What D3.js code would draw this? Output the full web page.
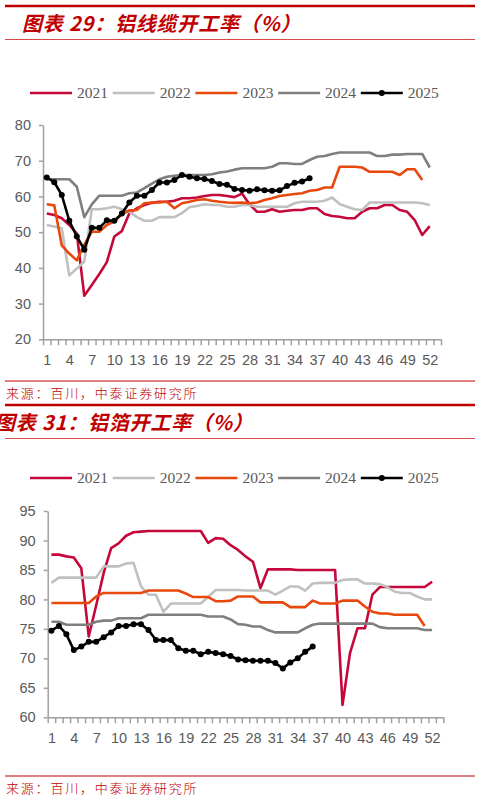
<!DOCTYPE html>
<html lang="zh">
<head>
<meta charset="utf-8">
<title>铝线缆 / 铝箔开工率</title>
<script src="https://cdn.jsdelivr.net/npm/d3@7"></script>
<style>
  body { margin: 0; background: #fff; }
  svg { display: block; }
</style>
</head>
<body>
<div id="chart"></div>
<script>
// week categories and axis labels
var weeks = d3.range(1, 54);
var weekLabels = [1, 4, 7, 10, 13, 16, 19, 22, 25, 28, 31, 34, 37, 40, 43, 46, 49, 52];
var years = ["2021", "2022", "2023", "2024", "2025"];
var yearColors = ["#c5083a", "#c0c0c0", "#e8480c", "#7f7f7f", "#000000"];

// 图表29 铝线缆开工率
var cable2021 = [55.2, 54.8, 53.9, 52.0, 49.6, 32.2, 35.2, 38.3, 41.6, 48.8,
  50.3, 55.3, 56.7, 57.6, 58.2, 58.5, 58.5, 58.8, 59.5, 59.5,
  59.7, 60.1, 60.4, 60.4, 60.1, 59.8, 60.8, 57.8, 55.7, 55.7,
  56.4, 55.7, 56.0, 56.2, 56.2, 56.7, 56.7, 55.1, 54.5, 54.3,
  53.9, 53.9, 55.7, 56.7, 56.7, 57.6, 57.6, 56.2, 55.7, 53.4, 49.2, 51.7];
var cable2022 = [52.0, 51.6, 51.1, 37.9, 39.8, 41.8, 56.4, 56.4, 56.7, 57.1,
  56.4, 55.7, 54.2, 53.2, 53.2, 54.2, 54.2, 54.2, 55.3, 57.0,
  57.3, 57.8, 57.6, 57.6, 57.1, 57.1, 57.6, 57.6, 57.1, 57.1,
  57.1, 57.1, 57.1, 58.1, 58.5, 58.5, 58.5, 58.8, 59.7, 57.9,
  57.1, 56.4, 56.2, 58.3, 58.3, 58.3, 58.3, 58.3, 58.3, 58.3, 58.1, 57.6];
var cable2023 = [57.8, 57.5, 46.3, 44.0, 42.1, 46.5, 50.1, 50.1, 52.0, 53.0,
  55.0, 56.1, 56.2, 58.1, 58.3, 58.3, 58.5, 56.7, 58.1, 58.5,
  59.0, 59.2, 58.8, 58.5, 58.3, 58.2, 58.3, 58.1, 58.3, 59.0,
  59.5, 60.1, 60.4, 60.7, 60.9, 61.6, 61.8, 62.5, 62.5, 68.3,
  68.3, 68.3, 68.1, 66.9, 66.9, 66.9, 66.9, 66.0, 67.6, 67.6, 64.6];
var cable2024 = [64.8, 64.8, 64.8, 64.8, 62.7, 54.2, 57.8, 60.2, 60.2, 60.2,
  60.2, 60.9, 61.1, 62.3, 63.6, 64.8, 65.5, 65.8, 66.0, 66.0,
  66.0, 66.0, 66.2, 66.7, 67.0, 67.5, 67.9, 67.9, 67.9, 67.9,
  68.3, 69.3, 69.3, 69.1, 69.1, 70.2, 71.1, 71.3, 71.9, 72.3,
  72.3, 72.3, 72.3, 72.3, 71.3, 71.3, 71.7, 71.7, 71.9, 71.9, 71.9, 68.1];
var cable2025 = [65.3, 64.0, 60.4, 53.2, 48.8, 45.1, 51.2, 51.2, 53.3, 53.2,
  55.2, 58.3, 60.2, 60.2, 61.8, 63.9, 63.9, 64.6, 66.0, 65.5,
  65.1, 64.9, 64.3, 63.5, 63.3, 62.1, 61.8, 61.6, 62.0, 61.7,
  61.6, 61.7, 62.9, 63.8, 64.2, 65.1];
var cableTicks = [20, 30, 40, 50, 60, 70, 80];

// 图表31 铝箔开工率
var foil2021 = [87.6, 87.6, 87.3, 87.1, 85.3, 73.7, 79.0, 84.5, 88.7, 89.5,
  90.8, 91.4, 91.5, 91.6, 91.6, 91.6, 91.6, 91.6, 91.6, 91.6,
  91.6, 89.6, 90.4, 90.3, 89.2, 88.4, 87.3, 86.4, 81.9, 85.1,
  85.1, 85.1, 85.1, 85.0, 85.0, 85.0, 85.0, 85.0, 85.0, 62.1,
  70.9, 75.1, 75.1, 80.8, 82.1, 82.1, 82.1, 82.1, 82.1, 82.1, 82.1, 83.0];
var foil2022 = [82.8, 83.7, 83.7, 83.7, 83.7, 83.7, 83.7, 85.6, 85.6, 85.6,
  86.1, 86.2, 82.2, 80.8, 80.8, 77.9, 79.3, 79.3, 79.3, 79.3,
  79.3, 80.4, 81.6, 81.6, 81.6, 81.6, 81.5, 81.5, 81.5, 81.5,
  80.8, 81.5, 82.2, 82.2, 81.5, 82.7, 82.8, 82.8, 82.8, 83.3,
  83.4, 83.4, 82.7, 82.7, 82.6, 82.1, 81.3, 81.1, 81.1, 80.5, 80.0, 80.0];
var foil2023 = [79.4, 79.4, 79.4, 79.4, 79.4, 79.4, 80.5, 81.1, 81.1, 81.1,
  81.1, 81.1, 81.1, 81.5, 81.5, 81.5, 81.5, 81.5, 81.0, 80.4,
  80.4, 80.4, 79.7, 79.7, 79.8, 80.5, 80.5, 80.5, 79.5, 79.5,
  79.5, 79.5, 78.7, 78.7, 78.7, 79.8, 79.3, 79.3, 79.3, 79.8,
  79.8, 79.8, 78.8, 77.9, 77.6, 77.6, 77.4, 77.4, 77.4, 77.4, 75.5];
var foil2024 = [76.2, 76.2, 75.7, 75.7, 75.7, 75.7, 76.2, 76.4, 76.4, 76.8,
  76.8, 76.8, 76.8, 77.4, 77.4, 77.4, 77.4, 77.4, 77.4, 77.4,
  77.4, 77.1, 77.1, 77.1, 76.6, 75.8, 75.7, 75.4, 75.4, 74.8,
  74.4, 74.4, 74.4, 74.4, 75.1, 75.7, 75.9, 75.9, 75.9, 75.9,
  75.9, 75.9, 75.9, 75.9, 75.3, 75.1, 75.1, 75.1, 75.1, 75.1, 74.8, 74.8];
var foil2025 = [74.7, 75.5, 74.1, 71.4, 72.0, 72.8, 72.8, 73.6, 74.4, 75.5,
  75.5, 75.8, 75.8, 74.8, 73.1, 73.1, 73.1, 71.7, 71.3, 71.3,
  70.7, 71.1, 70.9, 70.7, 70.4, 69.8, 69.7, 69.6, 69.6, 69.6,
  69.2, 68.3, 69.3, 70.0, 71.1, 72.0];
var foilTicks = [60, 65, 70, 75, 80, 85, 90, 95];

var red = "#c00000";
var tickGrey = "#595959";
var axisGrey = "#a0a0a0";

var svg = d3.select("#chart").append("svg")
  .attr("width", 481)
  .attr("height", 799);

// title bar: thick rule, italic title, thin rule
function header(top, title, tx) {
  svg.append("line").attr("x1", 5).attr("x2", 475)
    .attr("y1", top).attr("y2", top)
    .attr("stroke", red).attr("stroke-width", 2.6);
  svg.append("text")
    .attr("x", tx).attr("y", top + 16.5)
    .attr("dominant-baseline", "central")
    .attr("fill", red)
    .style("font-family", "'Noto Sans CJK SC'")
    .style("font-size", "20px")
    .style("font-weight", "bold")
    .style("font-style", "italic")
    .style("letter-spacing", "0.8px")
    .text(title);
  svg.append("line").attr("x1", 5).attr("x2", 475)
    .attr("y1", top + 33.5).attr("y2", top + 33.5)
    .attr("stroke", "#d84a4a").attr("stroke-width", 1);
}

function source(lineY) {
  svg.append("line").attr("x1", 5).attr("x2", 475)
    .attr("y1", lineY).attr("y2", lineY)
    .attr("stroke", red).attr("stroke-width", 1);
  svg.append("text")
    .attr("x", 6).attr("y", lineY + 11)
    .attr("dominant-baseline", "central")
    .attr("fill", red)
    .style("font-family", "'Noto Sans CJK SC'")
    .style("font-size", "13px")
    .style("font-weight", 300)
    .style("letter-spacing", "1.8px")
    .text("来源：百川，中泰证券研究所");
}

function legend(ly) {
  var item = svg.append("g").selectAll("g")
    .data(years)
    .enter().append("g")
    .attr("transform", function(d, i) { return "translate(" + (30 + i * 82.7) + "," + ly + ")"; });
  item.append("line")
    .attr("x1", 0).attr("x2", 42)
    .attr("stroke", function(d, i) { return yearColors[i]; })
    .attr("stroke-width", 2.6);
  item.filter(function(d) { return d === "2025"; })
    .append("circle").attr("cx", 21).attr("r", 3).attr("fill", "#000");
  item.append("text")
    .attr("x", 47).attr("dy", "0.35em")
    .attr("fill", tickGrey)
    .style("font-family", "'Liberation Serif'")
    .style("font-size", "15.5px")
    .text(function(d) { return d; });
}

function drawChart(opt) {
  var series = opt.series;
  var x = d3.scaleLinear().domain([0.5, 53.5]).range([opt.left, opt.right]);
  var y = d3.scaleLinear().domain(d3.extent(opt.ticks)).range([opt.bottom, opt.top]);

  var g = svg.append("g");

  // y axis
  var ya = g.append("g")
    .attr("transform", "translate(" + opt.left + ",0)")
    .call(d3.axisLeft(y).tickValues(opt.ticks).tickSize(4).tickSizeOuter(0).tickPadding(8));
  // x axis: marks on the band edges, labels in the middle
  var xa = g.append("g")
    .attr("transform", "translate(0," + opt.bottom + ")")
    .call(d3.axisBottom(x).tickValues(d3.range(0.5, 54, 1)).tickFormat("").tickSize(6).tickSizeOuter(0));
  var xl = g.append("g")
    .attr("transform", "translate(0," + opt.bottom + ")")
    .call(d3.axisBottom(x).tickValues(weekLabels).tickSize(0).tickPadding(15.5));
  xl.select(".domain").remove();

  [ya, xa, xl].forEach(function(a) {
    a.selectAll(".domain, line").attr("stroke", axisGrey).attr("stroke-width", 1.5);
    a.selectAll("text")
      .attr("fill", tickGrey)
      .style("font-family", "'Liberation Sans', Arial, sans-serif")
      .style("font-size", "14.5px");
  });

  var line = d3.line()
    .x(function(d, i) { return x(weeks[i]); })
    .y(function(d) { return y(d); });

  series.forEach(function(s, k) {
    g.append("path")
      .datum(s)
      .attr("d", line)
      .attr("fill", "none")
      .attr("stroke", yearColors[k])
      .attr("stroke-width", 2.6)
      .attr("stroke-linejoin", "round");
  });

  // 2025 carries markers
  g.selectAll(".dot")
    .data(series[4])
    .enter().append("circle")
    .attr("class", "dot")
    .attr("cx", function(d, i) { return x(weeks[i]); })
    .attr("cy", function(d) { return y(d); })
    .attr("r", 3)
    .attr("fill", "#000");
}

header(6, "图表 29：铝线缆开工率（%）", 22);
legend(93);
drawChart({
  series: [cable2021, cable2022, cable2023, cable2024, cable2025],
  ticks: cableTicks,
  left: 43, right: 441, top: 125, bottom: 339.3
});
source(381);

header(405, "图表 31：铝箔开工率（%）", -5);
legend(478);
drawChart({
  series: [foil2021, foil2022, foil2023, foil2024, foil2025],
  ticks: foilTicks,
  left: 47.7, right: 443.3, top: 511, bottom: 717.3
});
source(776);
</script>
</body>
</html>
